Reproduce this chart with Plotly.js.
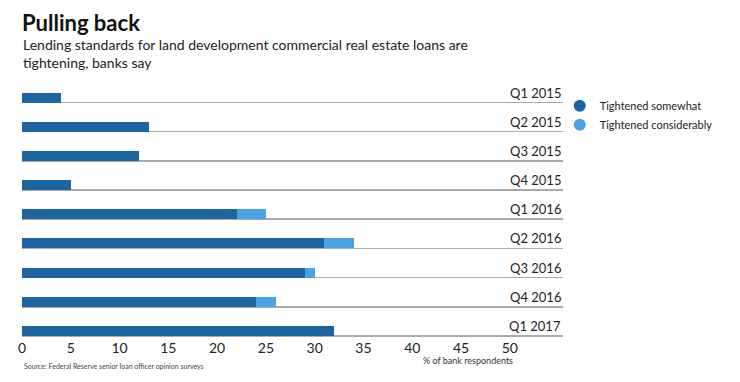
<!DOCTYPE html>
<html>
<head>
<meta charset="utf-8">
<script src="https://cdn.plot.ly/plotly-3.0.1.min.js"></script>
<style>html,body{margin:0;padding:0;background:#fff;}#chart{width:740px;height:382px;}</style>
</head>
<body>
<div id="chart"></div>
<script>
var quarters = ["Q1 2015","Q2 2015","Q3 2015","Q4 2015","Q1 2016","Q2 2016","Q3 2016","Q4 2016","Q1 2017"];
var somewhat = [4, 13, 12, 5, 22, 31, 29, 24, 32];
var considerably = [0, 0, 0, 0, 3, 3, 1, 2, 0];
var xTicks = [0, 5, 10, 15, 20, 25, 30, 35, 40, 45, 50];

var darkBlue = "#1d65a0";
var lightBlue = "#4aa3e6";
var fontFam = "Lato, 'Open Sans', sans-serif";
var barW = 0.34;

var traces = [
  {type: "bar", orientation: "h", y: quarters, x: somewhat, name: "Tightened somewhat",
   marker: {color: darkBlue}, width: barW, offset: -barW, showlegend: false, hoverinfo: "x"},
  {type: "bar", orientation: "h", y: quarters, x: considerably, name: "Tightened considerably",
   marker: {color: lightBlue}, width: barW, offset: -barW, showlegend: false, hoverinfo: "x"},
  {type: "scatter", mode: "markers", x: [null], y: [null], name: "Tightened somewhat",
   marker: {color: darkBlue, size: 11, symbol: "circle"}, showlegend: true},
  {type: "scatter", mode: "markers", x: [null], y: [null], name: "Tightened considerably",
   marker: {color: lightBlue, size: 11, symbol: "circle"}, showlegend: true}
];

var annotations = quarters.map(function(q){
  return {xref: "paper", x: 1, xanchor: "right", yref: "y", y: q, yanchor: "bottom", yshift: 0,
          text: q, showarrow: false, font: {family: fontFam, size: 13, color: "#222"}};
});
annotations.push({xref: "paper", yref: "paper", x: 0.824, y: -0.09, xanchor: "center", yanchor: "middle",
  text: "% of bank respondents", showarrow: false, font: {family: fontFam, size: 9, color: "#333"}});
annotations.push({xref: "paper", yref: "paper", x: 0, y: -0.11, xanchor: "left", yanchor: "middle",
  text: "Source: Federal Reserve senior loan officer opinion surveys", showarrow: false,
  font: {family: fontFam, size: 7, color: "#444"}});
annotations.push({xref: "paper", yref: "paper", x: 0, y: 1.197, xanchor: "left", yanchor: "top", align: "left",
  text: "Lending standards for land development commercial real estate loans are<br>tightening, banks say",
  showarrow: false, borderpad: 0, font: {family: fontFam, size: 14, color: "#222"}});

var layout = {
  width: 740, height: 382,
  margin: {l: 22, r: 177, t: 84.5, b: 44, pad: 0},
  paper_bgcolor: "#fff", plot_bgcolor: "#fff",
  barmode: "stack",
  title: {text: "<b>Pulling back</b>", x: 22/740, xanchor: "left", y: 1 - 23/382, yanchor: "middle",
          font: {family: fontFam, size: 22, color: "#111"}},
  xaxis: {range: [0, 55.45], tickvals: xTicks, ticktext: xTicks.map(String), showgrid: false, zeroline: false,
          showline: false, ticks: "", tickfont: {family: fontFam, size: 14, color: "#222"}, fixedrange: true},
  yaxis: {type: "category", categoryarray: quarters, range: [8.07, -0.6], showgrid: true, gridcolor: "#aaaaaa",
          gridwidth: 1.5, showticklabels: false, ticks: "", zeroline: false, showline: false, fixedrange: true},
  legend: {x: 0.994, xanchor: "left", y: 0.975, yanchor: "top", font: {family: fontFam, size: 11, color: "#222"},
           traceorder: "normal", itemsizing: "constant", itemwidth: 30, tracegroupgap: 0, bgcolor: "rgba(0,0,0,0)"},
  annotations: annotations,
  showlegend: true
};

Plotly.newPlot("chart", traces, layout, {displayModeBar: false, staticPlot: true});
</script>
</body>
</html>
